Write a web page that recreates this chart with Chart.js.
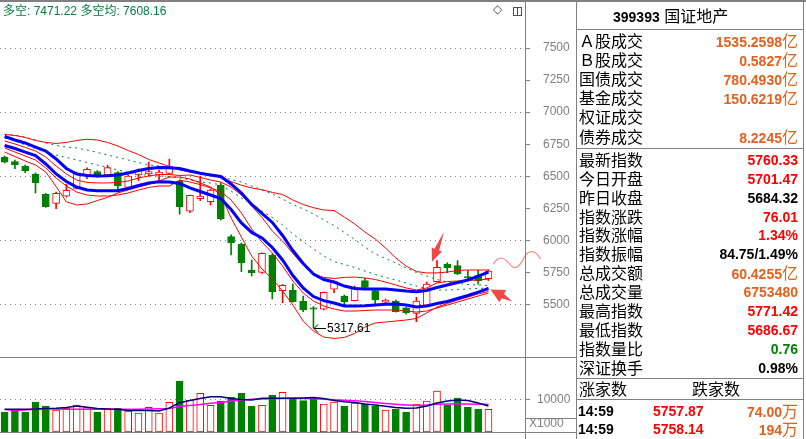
<!DOCTYPE html>
<html>
<head>
<meta charset="utf-8">
<script src="https://cdn.jsdelivr.net/npm/chart.js@4.4.0/dist/chart.umd.min.js"></script>
<style>
  body { margin: 0; background: #fff; }
  #wrap { position: relative; width: 806px; height: 439px; overflow: hidden; background: #fff; font-family: "Liberation Sans", Arial, sans-serif; }
  .ln { position: absolute; background: #808080; }
  canvas { position: absolute; left: 0; }
  .t { position: absolute; white-space: nowrap; line-height: 19px; height: 19px; }
  .cn { font-family: "Noto Sans CJK SC", sans-serif; font-size: 16px; }
  .v { font: bold 14px "Liberation Sans", Arial, sans-serif; }
</style>
</head>
<body>
<div id="wrap">
  <canvas id="price" width="576" height="357" style="top:0"></canvas>
  <canvas id="vol" width="576" height="75" style="top:357px"></canvas>
</div>
<script>
// K线 (日线)
const opens  = [6650, 6614, 6580, 6518, 6362, 6289, 6344, 6406, 6510, 6536, 6510, 6528, 6414, 6510, 6518, 6510, 6523, 6463, 6227, 6325, 6302, 6432, 6029, 5972, 5769, 5751, 5886, 5608, 5613, 5525, 5473, 5463, 5619, 5566, 5530, 5686, 5608, 5519, 5527, 5473, 5431, 5494, 5678, 5814, 5803, 5717, 5725, 5701.47];
const closes = [6611, 6590, 6544, 6450, 6263, 6367, 6391, 6523, 6555, 6502, 6567, 6424, 6502, 6549, 6536, 6533, 6575, 6263, 6352, 6346, 6393, 6167, 5982, 5826, 5748, 5899, 5600, 5650, 5522, 5457, 5463, 5595, 5678, 5522, 5631, 5634, 5535, 5535, 5444, 5436, 5527, 5660, 5790, 5787, 5738, 5707, 5684.32, 5760.33];
const highs  = [6658, 6627, 6588, 6526, 6366, 6377, 6438, 6533, 6565, 6545, 6586, 6536, 6510, 6557, 6611, 6549, 6633, 6471, 6354, 6502, 6401, 6450, 6044, 5980, 5847, 5902, 5894, 5656, 5660, 5566, 5484, 5597, 5683, 5574, 5644, 5704, 5613, 5543, 5535, 5477, 5556, 5675, 5842, 5826, 5842, 5764, 5769, 5771.42];
const lows   = [6604, 6559, 6528, 6370, 6258, 6247, 6338, 6401, 6481, 6492, 6506, 6393, 6409, 6466, 6502, 6458, 6518, 6204, 6216, 6310, 6276, 6159, 5886, 5756, 5722, 5743, 5543, 5514, 5519, 5444, 5317.61, 5457, 5592, 5488, 5527, 5613, 5498, 5509, 5441, 5424, 5366, 5488, 5675, 5748, 5734, 5686, 5658, 5686.67];

// 主图指标线
const bollUp = [6826, 6818, 6803, 6779, 6764, 6756, 6764, 6779, 6789, 6783, 6764, 6736, 6701, 6670, 6631, 6604, 6576, 6549, 6533, 6523, 6514, 6487, 6459, 6430, 6409, 6395, 6374, 6358, 6315, 6280, 6255, 6237, 6233, 6182, 6128, 6065, 6011, 5941, 5863, 5800, 5757, 5746, 5746, 5753, 5765, 5769, 5769, 5769];
const dashUp = [6828, 6822, 6806, 6783, 6760, 6740, 6728, 6721, 6705, 6686, 6666, 6647, 6627, 6608, 6588, 6580, 6569, 6557, 6541, 6526, 6510, 6497, 6475, 6455, 6424, 6393, 6362, 6323, 6280, 6245, 6206, 6159, 6116, 6062, 6007, 5948, 5894, 5859, 5824, 5785, 5750, 5722, 5695, 5675, 5664, 5656, 5652, 5648];
const dashDn = [6799, 6775, 6744, 6717, 6689, 6666, 6647, 6627, 6608, 6588, 6569, 6549, 6533, 6518, 6506, 6502, 6498, 6487, 6471, 6455, 6448, 6432, 6385, 6331, 6284, 6229, 6179, 6120, 6050, 5991, 5933, 5878, 5835, 5812, 5789, 5761, 5734, 5711, 5691, 5668, 5644, 5625, 5613, 5613, 5617, 5621, 5625, 5629];
const blueUp = [6810, 6783, 6760, 6728, 6697, 6635, 6561, 6518, 6506, 6502, 6505, 6510, 6526, 6545, 6561, 6569, 6566, 6561, 6541, 6523, 6510, 6498, 6440, 6370, 6280, 6210, 6140, 6038, 5921, 5820, 5738, 5695, 5675, 5644, 5625, 5621, 5621, 5621, 5613, 5605, 5600, 5609, 5633, 5652, 5672, 5691, 5722, 5753];
const redMid = [6775, 6752, 6725, 6697, 6650, 6580, 6518, 6471, 6452, 6448, 6448, 6452, 6463, 6487, 6502, 6514, 6514, 6506, 6510, 6491, 6471, 6455, 6416, 6354, 6268, 6179, 6073, 5995, 5898, 5808, 5738, 5711, 5703, 5711, 5714, 5707, 5695, 5675, 5652, 5629, 5613, 5629, 5668, 5679, 5683, 5687, 5691, 5699];
const redLow = [6721, 6689, 6658, 6627, 6565, 6487, 6424, 6377, 6354, 6346, 6346, 6354, 6370, 6393, 6413, 6424, 6424, 6470, 6455, 6435, 6410, 6380, 6315, 6214, 6089, 5987, 5902, 5800, 5683, 5590, 5527, 5488, 5465, 5449, 5449, 5453, 5457, 5457, 5457, 5449, 5441, 5449, 5473, 5496, 5519, 5543, 5566, 5590];
const blueDn = [6740, 6717, 6689, 6662, 6596, 6518, 6459, 6416, 6393, 6388, 6388, 6388, 6405, 6428, 6448, 6458, 6455, 6444, 6409, 6381, 6354, 6327, 6241, 6136, 6062, 6019, 5945, 5847, 5726, 5629, 5562, 5530, 5512, 5488, 5488, 5491, 5496, 5502, 5504, 5496, 5480, 5488, 5508, 5523, 5547, 5570, 5597, 5625];
const bollDn = [6689, 6654, 6619, 6588, 6533, 6420, 6300, 6276, 6284, 6311, 6335, 6370, 6393, 6416, 6436, 6463, 6494, 6494, 6479, 6448, 6416, 6354, 6175, 6026, 5878, 5777, 5699, 5605, 5496, 5371, 5293, 5246, 5235, 5243, 5274, 5324, 5356, 5363, 5371, 5379, 5391, 5434, 5480, 5508, 5535, 5558, 5582, 5601];

// 成交量及均量
const vols = [6120, 6730, 6120, 9170, 7950, 6730, 7240, 8260, 7440, 6120, 7240, 7240, 6420, 5810, 7540, 5810, 9070, 15600, 9680, 11840, 8160, 9480, 10700, 11930, 7950, 8160, 11320, 12130, 10400, 9580, 10500, 8560, 9170, 7950, 8870, 8560, 7950, 6730, 7030, 6120, 8560, 9480, 12540, 8260, 10400, 7650, 7030, 6940];
const volMa5 = [6940, 6940, 6940, 7030, 7190, 7250, 7490, 7950, 7550, 7190, 7030, 6940, 6580, 6580, 6580, 6420, 7340, 8960, 9630, 10240, 10800, 10800, 10240, 9940, 9790, 10310, 10310, 10310, 10310, 10400, 10550, 10240, 9630, 9270, 9020, 8560, 8260, 7860, 7490, 7250, 7340, 7950, 8870, 9480, 9790, 9630, 8870, 7950];
const volMa10 = [6880, 6580, 6730, 7030, 7030, 7030, 6970, 6940, 6940, 6940, 6940, 6940, 6940, 6970, 7030, 7100, 7220, 7800, 8100, 8410, 8810, 8990, 9480, 9790, 10000, 10090, 10150, 10240, 10310, 10240, 10150, 10030, 9850, 9720, 9540, 9330, 9020, 8720, 8470, 8260, 8100, 8260, 8500, 8560, 8560, 8560, 8500, 8470];

const priceTicks = [5500, 5750, 6000, 6250, 6500, 6750, 7000, 7250, 7500];
const volTicks = [10000];

const titleText = '多空: 7471.22 多空均: 7608.16';
const stockCode = '399393';
const stockName = '国证地产';
const sec1Labels = ['Ａ股成交', 'Ｂ股成交', '国债成交', '基金成交', '权证成交', '债券成交'];
const sec1Values = ['1535.2598', '0.5827', '780.4930', '150.6219', '', '8.2245'];
const sec2Labels = ['最新指数', '今日开盘', '昨日收盘', '指数涨跌', '指数涨幅', '指数振幅', '总成交额', '总成交量', '最高指数', '最低指数', '指数量比', '深证换手'];
const sec2Values = ['5760.33', '5701.47', '5684.32', '76.01', '1.34%', '84.75/1.49%', '60.4255', '6753480', '5771.42', '5686.67', '0.76', '0.98%'];
const sec2Units  = ['', '', '', '', '', '', '亿', '', '', '', '', ''];
const sec2Colors = ['r', 'r', 'k', 'r', 'r', 'k', 'o', 'o', 'r', 'r', 'g', 'k'];
const tickTimes  = ['14:59', '14:59'];
const tickPrices = ['5757.87', '5758.14'];
const tickVols   = ['74.00', '194'];

const RED = '#ff0000', GRN = '#008000', BLUE = '#0000ff', DGRN = '#008040';
const COLORS = { o: '#e4601c', r: '#ff0000', k: '#000000', g: '#008000' };

const isUp = i => closes[i] >= opens[i];

function lineDs(values, color, width, dash, order) {
  return {
    type: 'line',
    data: values.map((v, i) => ({ x: i, y: v })),
    borderColor: color, borderWidth: width, borderDash: dash || [],
    pointRadius: 0, fill: false, tension: 0, order
  };
}

const fixAxis = w => s => { s.width = w; s.paddingTop = 0; s.paddingBottom = 0; };

// 标注: 最低点, 红色箭头
const annot = {
  id: 'annot',
  afterDraw(chart) {
    const { ctx, scales: { x, y } } = chart;
    const li = lows.indexOf(Math.min(...lows));
    const lx = Math.round(x.getPixelForValue(li)), ly = Math.round(y.getPixelForValue(lows[li]));
    ctx.save();
    ctx.strokeStyle = '#000'; ctx.lineWidth = 1;
    ctx.beginPath();
    ctx.moveTo(lx + 1, ly + 0.5); ctx.lineTo(lx + 13, ly + 0.5);
    ctx.moveTo(lx + 1, ly + 0.5); ctx.lineTo(lx + 5, ly - 3.5);
    ctx.moveTo(lx + 1, ly + 0.5); ctx.lineTo(lx + 5, ly + 4.5);
    ctx.stroke();
    ctx.fillStyle = '#000'; ctx.font = '12px "Liberation Sans"'; ctx.textBaseline = 'middle';
    ctx.fillText(lows[li].toFixed(2), lx + 14, ly + 1);

    const arrow = (tx, ty, sx, sy, hl, hw) => {
      const dx = tx - sx, dy = ty - sy, len = Math.hypot(dx, dy);
      const ux = dx / len, uy = dy / len, px = -uy, py = ux;
      const bx = tx - ux * hl, by = ty - uy * hl;
      ctx.beginPath();
      ctx.moveTo(sx, sy);
      ctx.lineTo(bx + px * 2.5, by + py * 2.5);
      ctx.lineTo(bx + px * hw / 2, by + py * hw / 2);
      ctx.lineTo(tx, ty);
      ctx.lineTo(bx - px * hw / 2, by - py * hw / 2);
      ctx.lineTo(bx - px * 2.5, by - py * 2.5);
      ctx.closePath();
      ctx.fill();
    };
    ctx.fillStyle = '#f04848';
    const ax = x.getPixelForValue(42) - 5, ay = y.getPixelForValue(highs[42]) + 1;
    arrow(ax, ay, ax + 12, ay - 30, 13, 11);
    const bx = x.getPixelForValue(47) + 2, by = y.getPixelForValue(blueDn[47]) + 1;
    arrow(bx, by, bx + 22, by + 12, 14, 14);

    // 手绘曲线
    const cx = x.getPixelForValue(47), cy = y.getPixelForValue(closes[47]);
    ctx.strokeStyle = '#f29090'; ctx.lineWidth = 1.2;
    ctx.beginPath();
    ctx.moveTo(cx + 5, cy - 7);
    ctx.bezierCurveTo(cx + 10, cy - 16, cx + 16, cy - 14, cx + 22, cy - 6);
    ctx.bezierCurveTo(cx + 28, cy + 1, cx + 33, cy - 8, cx + 37, cy - 16);
    ctx.bezierCurveTo(cx + 42, cy - 22, cx + 48, cy - 20, cx + 52, cy - 12);
    ctx.stroke();
    ctx.restore();
  }
};

new Chart(document.getElementById('price'), {
  type: 'bar',
  data: {
    datasets: [
      lineDs(blueUp, BLUE, 3, null, 0),
      lineDs(blueDn, BLUE, 3, null, 0),
      lineDs(bollUp, RED, 1, null, 1),
      lineDs(redMid, RED, 1, null, 1),
      lineDs(redLow, RED, 1, null, 1),
      lineDs(bollDn, RED, 1, null, 1),
      lineDs(dashUp, DGRN, 1, [2, 4], 1),
      lineDs(dashDn, DGRN, 1, [2, 4], 1),
      {
        type: 'bar', order: 2, grouped: false, barThickness: 7,
        data: opens.map((o, i) => ({ x: i, y: [o, closes[i]] })),
        backgroundColor: opens.map((o, i) => isUp(i) ? '#ffffff' : GRN),
        borderColor: opens.map((o, i) => isUp(i) ? RED : GRN),
        borderWidth: 1, borderSkipped: false
      },
      {
        type: 'bar', order: 3, grouped: false, barThickness: 1,
        data: lows.map((l, i) => ({ x: i, y: [l, highs[i]] })),
        backgroundColor: opens.map((o, i) => isUp(i) ? RED : GRN),
        borderWidth: 0
      }
    ]
  },
  options: {
    responsive: false, animation: false, events: [],
    layout: { padding: 0 },
    plugins: { legend: { display: false }, tooltip: { enabled: false } },
    scales: {
      x: { type: 'linear', min: -0.45, max: 50.55, offset: false, display: false },
      y: {
        position: 'right', min: 5090.4, max: 7875, bounds: 'data',
        afterBuildTicks: s => { s.ticks = priceTicks.map(v => ({ value: v })); },
        afterFit: fixAxis(51),
        grid: {
          color: c => (c.tick && c.tick.value % 500 === 0) ? '#808080' : 'rgba(0,0,0,0)',
          tickColor: '#808080', tickLength: 5, lineWidth: 1
        },
        border: { display: false, dash: [1, 4] },
        ticks: { color: '#808080', font: { size: 12, family: 'Liberation Sans' }, padding: 13, callback: v => String(v) }
      }
    }
  },
  plugins: [annot]
});

new Chart(document.getElementById('vol'), {
  type: 'bar',
  data: {
    datasets: [
      lineDs(volMa5, '#000080', 1.5, null, 0),
      lineDs(volMa10, '#ff00ff', 1.5, null, 0),
      {
        type: 'bar', order: 1, grouped: false, barThickness: 7,
        data: vols.map((v, i) => ({ x: i, y: v })),
        backgroundColor: vols.map((v, i) => isUp(i) ? '#ffffff' : GRN),
        borderColor: vols.map((v, i) => isUp(i) ? RED : GRN),
        borderWidth: 1, borderSkipped: false
      }
    ]
  },
  options: {
    responsive: false, animation: false, events: [],
    layout: { padding: 0 },
    plugins: { legend: { display: false }, tooltip: { enabled: false } },
    scales: {
      x: { type: 'linear', min: -0.45, max: 50.55, offset: false, display: false },
      y: {
        position: 'right', min: 0, max: 22936, bounds: 'data',
        afterBuildTicks: s => { s.ticks = volTicks.map(v => ({ value: v })); },
        afterFit: fixAxis(51),
        grid: { color: '#808080', tickColor: '#808080', tickLength: 5, lineWidth: 1 },
        border: { display: false, dash: [1, 4] },
        ticks: { color: '#808080', font: { size: 12, family: 'Liberation Sans' }, padding: 7, callback: v => String(v) }
      }
    }
  }
});

// 边框与右侧信息栏
const wrap = document.getElementById('wrap');
function line(l, t, w, h) {
  const d = document.createElement('div');
  d.className = 'ln';
  Object.assign(d.style, { left: l + 'px', top: t + 'px', width: w + 'px', height: h + 'px' });
  wrap.appendChild(d);
}
function put(html, style) {
  const d = document.createElement('div');
  d.className = 't';
  d.innerHTML = html;
  Object.assign(d.style, style);
  wrap.appendChild(d);
}
line(0, 0, 806, 2);
line(525, 0, 1, 439);
line(576, 0, 1, 439);
line(803, 0, 1, 439);
line(0, 357, 577, 1);
line(0, 432, 577, 1);
line(525, 418, 52, 1);
line(577, 29, 227, 1);
line(577, 148, 227, 1);
line(577, 378, 227, 1);
line(577, 399, 227, 1);

put(titleText, { left: '3px', top: '1px', color: '#008040', font: '12px "Liberation Sans", "Noto Sans CJK SC"' });
put('◇', { left: '493px', top: '2px', color: '#505050', font: '12px "DejaVu Sans"' });
put('', { left: '513px', top: '7px', width: '9px', height: '9px', border: '1px solid #505050', boxSizing: 'border-box',
  background: 'linear-gradient(90deg, transparent 3.5px, #505050 3.5px, #505050 4.5px, transparent 4.5px)' });
put('X1000', { left: '529px', top: '416px', color: '#808080', font: '12px "Liberation Sans"' });

put(`<span class="v">${stockCode}</span> <span class="cn">${stockName}</span>`, { left: '613px', top: '6px', color: '#000' });

const val = (num, unit, c) =>
  `<span class="v" style="color:${COLORS[c]}">${num}</span>` + (unit ? `<span class="cn" style="color:${COLORS[c]}">${unit}</span>` : '');

sec1Labels.forEach((lab, k) => {
  const top = 30.5 + k * 19.2;
  put(`<span class="cn">${lab}</span>`, { left: '579px', top: top + 'px' });
  if (sec1Values[k]) put(val(sec1Values[k], '亿', 'o'), { right: '8px', top: top + 'px' });
});
sec2Labels.forEach((lab, k) => {
  const top = 149.8 + k * 18.9;
  put(`<span class="cn">${lab}</span>`, { left: '579px', top: top + 'px' });
  put(val(sec2Values[k], sec2Units[k], sec2Colors[k]), { right: '8px', top: top + 'px' });
});
put('<span class="cn">涨家数</span>', { left: '579px', top: '379px' });
put('<span class="cn">跌家数</span>', { left: '692px', top: '379px' });
tickTimes.forEach((tm, k) => {
  const top = 400.5 + k * 18.3;
  put(`<span class="v" style="color:#000">${tm}</span>`, { left: '578px', top: top + 'px' });
  put(`<span class="v" style="color:${COLORS.r}">${tickPrices[k]}</span>`, { left: '653px', top: top + 'px' });
  put(val(tickVols[k], '万', 'o'), { right: '8px', top: top + 'px' });
});
</script>
</body>
</html>
